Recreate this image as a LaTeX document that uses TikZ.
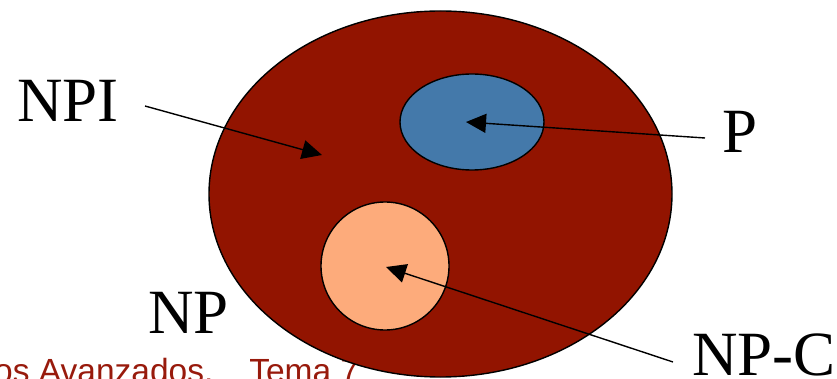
\documentclass[tikz,border=0pt]{standalone}
\usepackage{fontspec}
\setmainfont{Liberation Serif}
\newfontfamily\footfont{Liberation Sans}
\usetikzlibrary{shapes.geometric,arrows.meta}
\definecolor{bigred}{RGB}{146,20,0}
\definecolor{pblue}{RGB}{68,121,170}
\definecolor{npcorange}{RGB}{253,171,123}
\definecolor{footred}{RGB}{152,26,12}
\tikzset{
  setshape/.style={ellipse,draw=black,line width=1.4pt,inner sep=0pt},
  biglabel/.style={anchor=base west,inner sep=0pt,font=\fontsize{63}{63}\selectfont},
  pointer/.style={line width=1.4pt,-{Triangle[length=20pt,width=19pt]}}
}
\begin{document}
\begin{tikzpicture}[x=1pt,y=-1pt]
\useasboundingbox (0,0) rectangle (837,379);
\clip (0,0) rectangle (837,379);
\node[anchor=base west,inner sep=0pt,text=footred,font=\footfont\fontsize{33.5}{33.5}\selectfont] (foot) at (-6,382) {os Avanzados.\hspace{36pt}Tema 7};
\node[setshape,fill=bigred,minimum width=463pt,minimum height=366pt] (np) at (440.5,194) {};
\node[setshape,fill=pblue,minimum width=144pt,minimum height=96pt] (p) at (472,122) {};
\node[setshape,fill=npcorange,minimum width=128pt,minimum height=128pt] (npc) at (385,266) {};
\node[biglabel] (lnpi) at (17,122) {NPI};
\node[biglabel] (lnp) at (148,333) {NP};
\node[biglabel] (lp) at (722,153) {P};
\node[biglabel] (lnpc) at (692,375) {NP-C};
\coordinate (npitail) at (145,106);
\coordinate (npitip) at (322,155);
\coordinate (ptail) at (705,138);
\coordinate (ptip) at (466,122);
\coordinate (npctail) at (673,362);
\coordinate (npctip) at (386,267);
\draw[pointer] (npitail) -- (npitip);
\draw[pointer] (ptail) -- (ptip);
\draw[pointer] (npctail) -- (npctip);
\end{tikzpicture}
\end{document}
